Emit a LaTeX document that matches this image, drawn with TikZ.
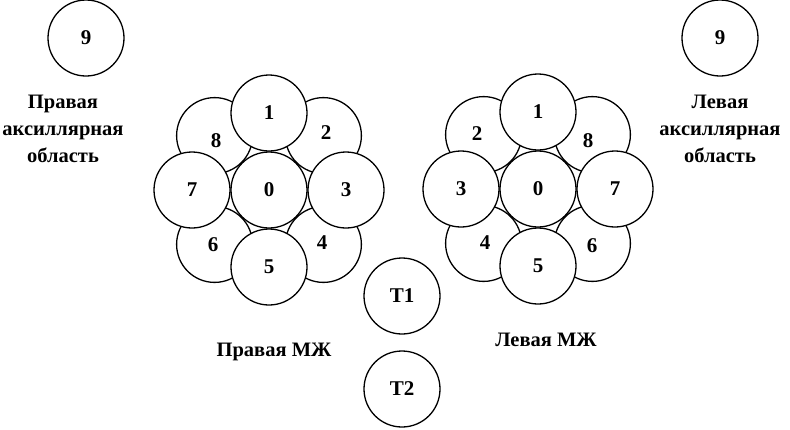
\documentclass[tikz,border=0pt]{standalone}
\usepackage{fontspec}
\setmainfont{Liberation Serif}
\begin{document}
\begin{tikzpicture}[x=1pt,y=-1pt,
  circ/.style={circle,draw,fill=white,line width=1.3pt,minimum size=76pt,inner sep=0pt,font=\fontsize{21}{24}\bfseries\selectfont},
  lbl/.style={inner sep=0pt,font=\fontsize{21}{24}\bfseries\selectfont},
  txt/.style={align=center,inner sep=0pt,font=\fontsize{20.5}{27}\bfseries\selectfont}]
\useasboundingbox[fill=white] (0,0) rectangle (790,429);
% axillary circles
\node[circ] (l9) at (86,38) {9};
\node[circ] (r9) at (720,38) {9};
\node[txt] (ltxt) at (63,129) {Правая\\аксиллярная\\область};
\node[txt] (rtxt) at (720,129) {Левая\\аксиллярная\\область};
% left cluster: diagonal circles first
\node[circ] (l8) at (214.6,135.6) {};
\node[circ] (l2) at (323.4,135.6) {};
\node[circ] (l4) at (323.4,244.4) {};
\node[circ] (l6) at (214.6,244.4) {};
\node[lbl] (l8t) at (216,141) {8};
\node[lbl] (l2t) at (326,133) {2};
\node[lbl] (l4t) at (322,243) {4};
\node[lbl] (l6t) at (213,245) {6};
\node[circ] (l1) at (269,113) {1};
\node[circ] (l3) at (346,190) {3};
\node[circ] (l5) at (269,267) {5};
\node[circ] (l7) at (192,190) {7};
\node[circ] (l0) at (269,190) {0};
% right cluster
\node[circ] (r2) at (483.6,134.6) {};
\node[circ] (r8) at (592.4,134.6) {};
\node[circ] (r6) at (592.4,243.4) {};
\node[circ] (r4) at (483.6,243.4) {};
\node[lbl] (r2t) at (477,134) {2};
\node[lbl] (r8t) at (588,141) {8};
\node[lbl] (r6t) at (592,246) {6};
\node[lbl] (r4t) at (485,243) {4};
\node[circ] (r1) at (538,112) {1};
\node[circ] (r7) at (615,189) {7};
\node[circ] (r5) at (538,266) {5};
\node[circ] (r3) at (461,189) {3};
\node[circ] (r0) at (538,189) {0};
% T circles
\node[circ] (t1) at (402,296) {T1};
\node[circ] (t2) at (402,389) {T2};
\node[txt] (lmz) at (274,352) {Правая МЖ};
\node[txt] (rmz) at (546,340) {Левая МЖ};
\end{tikzpicture}
\end{document}
